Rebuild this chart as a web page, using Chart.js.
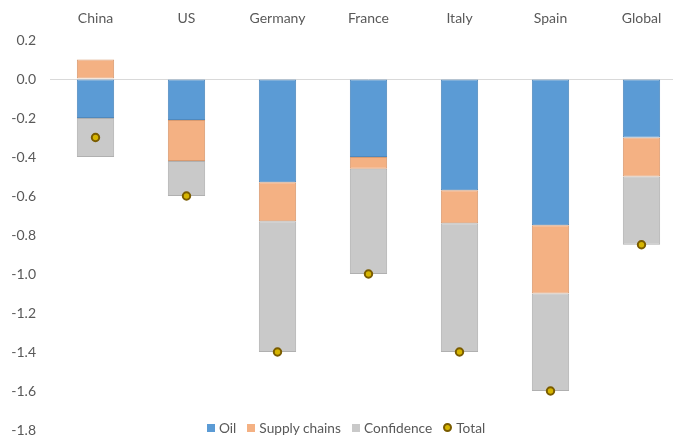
<!DOCTYPE html>
<html lang="en">
<head>
    <meta charset="UTF-8">
    <title>Shock decomposition</title>
    <style>
        html, body {
            margin: 0;
            padding: 0;
            background: #fff;
            overflow: hidden;
        }
        #wrap {
            position: relative;
            width: 693px;
            height: 437px;
        }
        #legend {
            position: absolute;
            left: 207px;
            top: 419px;
            display: flex;
            align-items: center;
            font-family: Lato, "Liberation Sans", sans-serif;
            font-size: 13.7px;
            color: #595959;
            white-space: nowrap;
        }
        #legend span.item {
            display: flex;
            align-items: center;
            margin-right: 11px;
        }
        #legend i {
            display: inline-block;
            width: 8px;
            height: 8px;
            margin-right: 4px;
        }
        #legend i.dot {
            width: 5px;
            height: 5px;
            border-radius: 50%;
            border: 2px solid #7a5c00;
            background: #d6b500;
        }
    </style>
    <script src="https://cdn.jsdelivr.net/npm/chart.js"></script>
</head>
<body>
    <div id="wrap">
        <canvas id="chart" width="693" height="437"></canvas>
        <div id="legend"></div>
    </div>

    <script>
        const countries = ['China', 'US', 'Germany', 'France', 'Italy', 'Spain', 'Global'];
        const oil = [-0.20, -0.21, -0.53, -0.40, -0.57, -0.75, -0.30];
        const supplyChains = [0.10, -0.21, -0.20, -0.06, -0.17, -0.35, -0.20];
        const confidence = [-0.20, -0.18, -0.67, -0.54, -0.66, -0.50, -0.35];
        const total = [-0.30, -0.60, -1.40, -1.00, -1.40, -1.60, -0.85];
        const yTicks = [0.2, 0.0, -0.2, -0.4, -0.6, -0.8, -1.0, -1.2, -1.4, -1.6, -1.8];

        const textColor = '#595959';
        const fontFamily = 'Lato, "Liberation Sans", sans-serif';

        const series = [
            { label: 'Oil', data: oil, color: '#5b9bd5', edge: '#5089bd' },
            { label: 'Supply chains', data: supplyChains, color: '#f4b183', edge: '#d89a70' },
            { label: 'Confidence', data: confidence, color: '#c9c9c9', edge: '#b0b0b0' }
        ];

        const datasets = series.map(s => ({
            type: 'bar',
            label: s.label,
            data: s.data,
            backgroundColor: s.color,
            borderColor: s.edge,
            borderWidth: 1,
            borderSkipped: false,
            barPercentage: 0.41,
            categoryPercentage: 1,
            stack: 'parts',
            order: 2
        }));

        datasets.push({
            type: 'line',
            label: 'Total',
            data: total,
            showLine: false,
            pointRadius: 3.7,
            pointBorderWidth: 2,
            pointBackgroundColor: '#d6b500',
            pointBorderColor: '#7a5c00',
            stack: 'total',
            order: 0
        });

        // html legend, sits on the -1.8 line like the original
        const legend = document.getElementById('legend');
        series.forEach(s => {
            legend.innerHTML += `<span class="item"><i style="background:${s.color}"></i>${s.label}</span>`;
        });
        legend.innerHTML += `<span class="item"><i class="dot"></i>Total</span>`;

        const ctx = document.getElementById('chart').getContext('2d');
        new Chart(ctx, {
            data: {
                labels: countries,
                datasets: datasets
            },
            options: {
                responsive: false,
                animation: false,
                layout: {
                    padding: { top: 0, bottom: 7, left: 0, right: 2 }
                },
                plugins: {
                    legend: { display: false },
                    tooltip: { enabled: false }
                },
                scales: {
                    x: {
                        position: 'top',
                        stacked: true,
                        offset: true,
                        grid: { display: false, drawTicks: false },
                        border: { display: false },
                        ticks: {
                            color: textColor,
                            padding: 13,
                            font: { family: fontFamily, size: 14 }
                        },
                        afterFit: scale => { scale.height = 40; }
                    },
                    y: {
                        stacked: true,
                        min: -1.8,
                        max: 0.2,
                        afterBuildTicks: scale => {
                            scale.ticks = yTicks.map(v => ({ value: v }));
                        },
                        afterFit: scale => {
                            scale.width = 50;
                            scale.paddingTop = 0;
                            scale.paddingBottom = 0;
                        },
                        grid: {
                            drawTicks: false,
                            color: c => (c.tick && c.tick.value === 0) ? '#d9d9d9' : 'rgba(0,0,0,0)',
                            lineWidth: 1
                        },
                        border: { display: false },
                        ticks: {
                            color: textColor,
                            padding: 14,
                            font: { family: fontFamily, size: 14 },
                            callback: v => v.toFixed(1)
                        }
                    }
                }
            }
        });
    </script>
</body>
</html>
